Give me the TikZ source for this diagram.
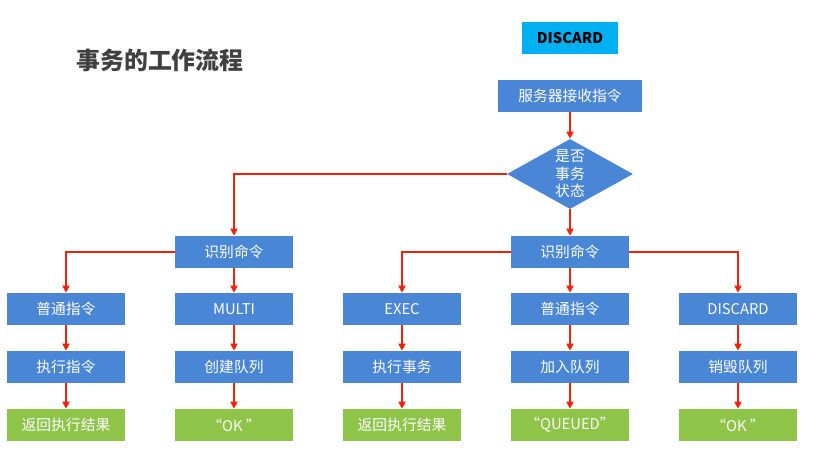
\documentclass[tikz,border=0pt]{standalone}
\usepackage{fontspec}
\setmainfont{Noto Sans CJK SC}
\usepackage{tikz}
\usetikzlibrary{shapes.geometric, positioning, arrows.meta}

\definecolor{stepblue}{RGB}{74,134,214}
\definecolor{stepgreen}{RGB}{142,196,72}
\definecolor{tagcyan}{RGB}{0,176,240}
\definecolor{flowred}{RGB}{240,35,10}
\definecolor{titlegray}{RGB}{64,64,64}

\begin{document}
\begin{tikzpicture}[
    x=0.025cm, y=-0.025cm,
    cmd/.style={rectangle, fill=stepblue, text=white, inner sep=0pt,
                minimum width=2.95cm, minimum height=0.8cm,
                font=\fontsize{10.5}{12}\selectfont},
    result/.style={cmd, fill=stepgreen},
    check/.style={diamond, fill=stepblue, text=white, inner sep=0pt,
                  aspect=1.8, minimum width=3.15cm, minimum height=1.75cm,
                  align=center, font=\fontsize{10.5}{12.5}\selectfont},
    flow/.style={draw=flowred, line width=1.2pt,
                 -{Triangle[width=5pt,length=5pt]}}
]
    \useasboundingbox[fill=white] (0,0) rectangle (831,471);

    % --- Title and tag ---
    \node[text=titlegray, font=\fontsize{17}{20}\selectfont\bfseries]
        (title) at (160,60) {事务的工作流程};
    \node[fill=tagcyan, inner sep=0pt, minimum width=2.4cm, minimum height=0.8cm,
          font=\fontsize{10.5}{12}\selectfont\bfseries] (tag) at (570,38) {DISCARD};

    % --- Server receives command ---
    \node[cmd, minimum width=3.575cm] (srv) at (570,96) {服务器接收指令};
    \node[check] (state) at (570,174) {是否\\事务\\状态};

    % --- Command recognition ---
    \node[cmd] (idL) at (234,252) {识别命令};
    \node[cmd] (idR) at (570,252) {识别命令};

    % --- Command row ---
    \node[cmd] (cmdA) at ( 66,309) {普通指令};
    \node[cmd] (cmdB) at (234,309) {MULTI};
    \node[cmd] (cmdC) at (402,309) {EXEC};
    \node[cmd] (cmdD) at (570,309) {普通指令};
    \node[cmd] (cmdE) at (738,309) {DISCARD};

    % --- Action row ---
    \node[cmd] (actA) at ( 66,367) {执行指令};
    \node[cmd] (actB) at (234,367) {创建队列};
    \node[cmd] (actC) at (402,367) {执行事务};
    \node[cmd] (actD) at (570,367) {加入队列};
    \node[cmd] (actE) at (738,367) {销毁队列};

    % --- Result row ---
    \node[result] (resA) at ( 66,425) {返回执行结果};
    \node[result] (resB) at (234,425) {“OK ”};
    \node[result] (resC) at (402,425) {返回执行结果};
    \node[result] (resD) at (570,425) {“QUEUED”};
    \node[result] (resE) at (738,425) {“OK ”};

    % --- Connectors ---
    \draw[flow] (srv)        -- (state);
    \draw[flow] (state.west) -| (idL.north);
    \draw[flow] (state)      -- (idR);
    \draw[flow] (idL.west)   -| (cmdA.north);
    \draw[flow] (idL)        -- (cmdB);
    \draw[flow] (idR.west)   -| (cmdC.north);
    \draw[flow] (idR)        -- (cmdD);
    \draw[flow] (idR.east)   -| (cmdE.north);
    \foreach \c in {A,B,C,D,E} {
        \draw[flow] (cmd\c) -- (act\c);
        \draw[flow] (act\c) -- (res\c);
    }
\end{tikzpicture}
\end{document}
